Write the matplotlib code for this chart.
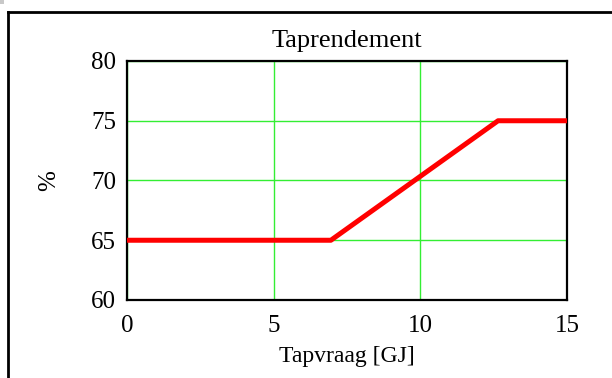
import matplotlib
matplotlib.use("Agg")
import matplotlib.pyplot as plt
from matplotlib.lines import Line2D
from matplotlib.patches import Rectangle

# tap demand [GJ] vs efficiency [%]
tapvraag = [0, 6.95, 12.65, 15]
rendement = [65, 65, 75, 75]

xticks = [0, 5, 10, 15]
yticks = [60, 65, 70, 75, 80]

plt.rcParams['font.family'] = ['Liberation Serif', 'DejaVu Serif']

W, H = 612, 378
fig = plt.figure(figsize=(W / 100, H / 100), dpi=100)

# outer frame (top and left edges only)
fig.add_artist(Line2D([8 / W, 1], [1 - 12 / H, 1 - 12 / H], color='black', lw=2))
fig.add_artist(Line2D([8 / W, 8 / W], [0, 1 - 12 / H], color='black', lw=2))
fig.add_artist(Rectangle((0, 1 - 4 / H), 4 / W, 4 / H, color='#c8c8c8', lw=0))

ax = fig.add_axes([127 / W, (H - 300) / H, 440 / W, 239 / H])
ax.plot(tapvraag, rendement, color='red', lw=3.6, solid_capstyle='butt', zorder=3)

ax.set_xlim(0, 15)
ax.set_ylim(60, 80)
ax.set_xticks(xticks)
ax.set_yticks(yticks)
ax.grid(True, color='#33ee33', lw=1)
ax.tick_params(axis='x', length=0, labelsize=18, pad=11)
ax.tick_params(axis='y', length=0, labelsize=18, pad=8)
for s in ax.spines.values():
    s.set_linewidth(1.6)

ax.set_title('Taprendement', fontsize=19, pad=10)
ax.set_xlabel('Tapvraag [GJ]', fontsize=17, labelpad=6)
ax.set_ylabel('%', fontsize=18, labelpad=22)

fig.savefig('out.png', dpi=100)
